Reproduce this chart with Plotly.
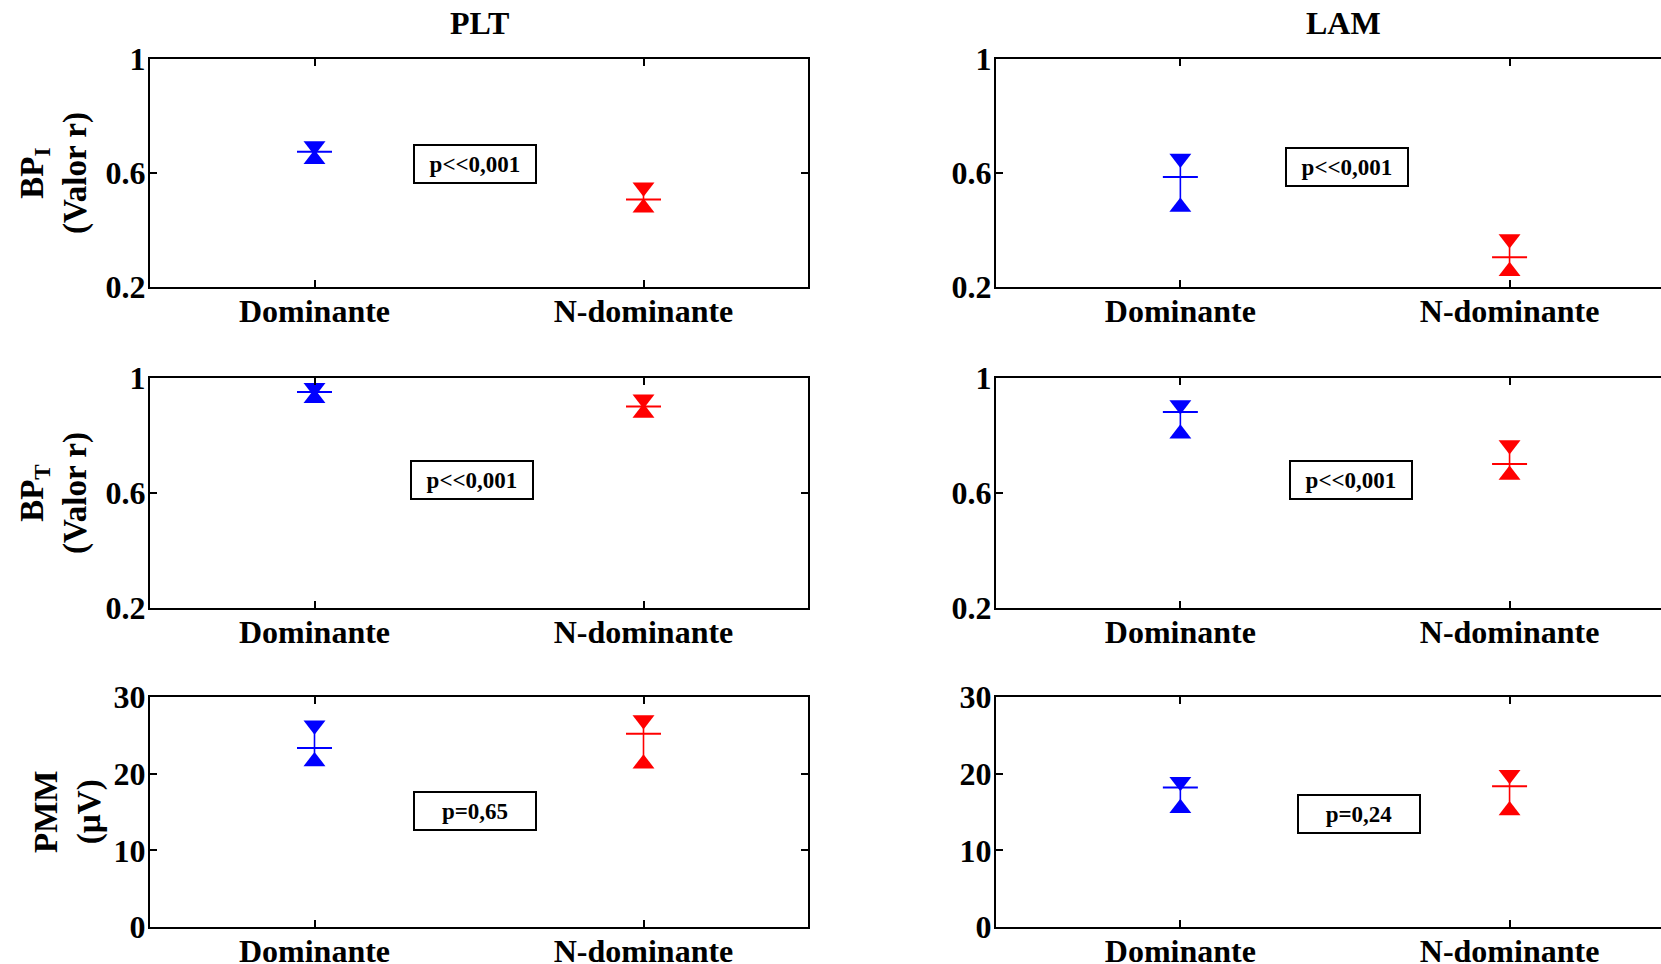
import plotly.graph_objects as go

# ---------------- data ----------------
categories = ["Dominante", "N-dominante"]
groups = ["PLT", "LAM"]
row_titles = ["BP<sub>I</sub><br>(Valor r)", "BP<sub>T</sub><br>(Valor r)", "PMM<br>(µV)"]
colors = ["#0000ff", "#ff0000"]

# PLT
plt_bpi_mean = [0.675, 0.507]
plt_bpi_upper = [0.695, 0.550]
plt_bpi_lower = [0.648, 0.478]

plt_bpt_mean = [0.951, 0.901]
plt_bpt_upper = [0.966, 0.926]
plt_bpt_lower = [0.930, 0.878]

plt_pmm_mean = [23.35, 25.2]
plt_pmm_upper = [26.3, 27.0]
plt_pmm_lower = [21.6, 21.3]

# LAM
lam_bpi_mean = [0.586, 0.304]
lam_bpi_upper = [0.651, 0.368]
lam_bpi_lower = [0.481, 0.255]

lam_bpt_mean = [0.882, 0.701]
lam_bpt_upper = [0.906, 0.767]
lam_bpt_lower = [0.806, 0.663]

lam_pmm_mean = [18.2, 18.35]
lam_pmm_upper = [18.96, 19.87]
lam_pmm_lower = [15.48, 15.2]

p_texts = [["p<<0,001", "p<<0,001"], ["p<<0,001", "p<<0,001"], ["p=0,65", "p=0,24"]]

y_ranges = [[0.2, 1], [0.2, 1], [0, 30]]
y_tickvals = [[0.2, 0.6, 1], [0.2, 0.6, 1], [0, 10, 20, 30]]
y_ticktext = [["0.2", "0.6", "1"], ["0.2", "0.6", "1"], ["0", "10", "20", "30"]]

data = {
    (0, 0): (plt_bpi_mean, plt_bpi_lower, plt_bpi_upper),
    (1, 0): (plt_bpt_mean, plt_bpt_lower, plt_bpt_upper),
    (2, 0): (plt_pmm_mean, plt_pmm_lower, plt_pmm_upper),
    (0, 1): (lam_bpi_mean, lam_bpi_lower, lam_bpi_upper),
    (1, 1): (lam_bpt_mean, lam_bpt_lower, lam_bpt_upper),
    (2, 1): (lam_pmm_mean, lam_pmm_lower, lam_pmm_upper),
}

# ---------------- layout geometry ----------------
W, H = 1661, 964
FONT = "Liberation Serif"
col_px = [(150, 808), (996, 1661)]
row_px = [(59, 287), (378, 608), (697, 927)]
x_ranges = [[0.5, 2.5], [0.44, 2.46]]
p_x = [[1.487, 1.507], [1.478, 1.519], [1.488, 1.542]]
p_y = [[0.631, 0.622], [0.646, 0.646], [15.08, 14.74]]

fig = go.Figure()
layout = {}
annotations = []

for r in range(3):
    for c in range(2):
        k = r * 2 + c + 1
        xa = "x" if k == 1 else f"x{k}"
        ya = "y" if k == 1 else f"y{k}"
        mean, lower, upper = data[(r, c)]
        for i, cat in enumerate(categories):
            xpos = i + 1
            fig.add_trace(go.Scatter(
                x=[xpos, xpos], y=[lower[i], upper[i]],
                mode="lines+markers",
                line=dict(color=colors[i], width=1.6),
                marker=dict(symbol=["triangle-up", "triangle-down"], size=19,
                            color=colors[i], line=dict(width=0)),
                xaxis=xa, yaxis=ya, showlegend=False, hoverinfo="skip",
                cliponaxis=False,
            ))
            fig.add_trace(go.Scatter(
                x=[xpos], y=[mean[i]], mode="markers",
                marker=dict(symbol="line-ew", size=25,
                            line=dict(color=colors[i], width=2)),
                xaxis=xa, yaxis=ya, showlegend=False, hoverinfo="skip",
                cliponaxis=False,
            ))
        x0, x1 = col_px[c]
        y0, y1 = row_px[r]
        tickfont = dict(family=FONT, size=32, color="black", weight="bold")
        layout["xaxis" if k == 1 else f"xaxis{k}"] = dict(
            domain=[x0 / W, x1 / W], anchor=ya, range=x_ranges[c],
            tickvals=[1, 2], ticktext=categories, ticks="inside", ticklen=7,
            tickwidth=1.5, tickcolor="black", showline=True, linewidth=2,
            linecolor="black", mirror="ticks", showgrid=False, zeroline=False,
            tickfont=tickfont, fixedrange=True, automargin=False,
            ticklabelstandoff=-5,
        )
        layout["yaxis" if k == 1 else f"yaxis{k}"] = dict(
            domain=[1 - y1 / H, 1 - y0 / H], anchor=xa, range=y_ranges[r],
            tickvals=y_tickvals[r], ticktext=y_ticktext[r], ticks="inside",
            ticklen=7, tickwidth=1.5, tickcolor="black", showline=True,
            linewidth=2, linecolor="black",
            mirror="ticks" if c == 0 else False,
            showgrid=False, zeroline=False, tickfont=tickfont, fixedrange=True,
            automargin=False, ticklabelstandoff=-4,
        )
        annotations.append(dict(
            xref=xa, yref=ya, x=p_x[r][c], y=p_y[r][c], text=p_texts[r][c],
            showarrow=False, bordercolor="black", borderwidth=2, borderpad=3,
            width=114, height=30, bgcolor="white",
            font=dict(family=FONT, size=23, color="black", weight="bold"),
        ))

# column titles
for c, g in enumerate(groups):
    x0, x1 = col_px[c]
    cx = (x0 + x1) / 2 if c == 0 else 1343
    annotations.append(dict(
        xref="paper", yref="paper", x=cx / W, y=1 - 23 / H, text=g,
        showarrow=False, xanchor="center", yanchor="middle",
        font=dict(family=FONT, size=32, color="black", weight="bold"),
    ))

# row titles
row_title_x = [54, 54, 68]
for r, t in enumerate(row_titles):
    y0, y1 = row_px[r]
    annotations.append(dict(
        xref="paper", yref="paper", x=row_title_x[r] / W, y=1 - (y0 + y1) / 2 / H,
        text=t, textangle=-90, showarrow=False, xanchor="center", yanchor="middle",
        font=dict(family=FONT, size=33, color="black", weight="bold"),
    ))

fig.update_layout(
    **layout,
    annotations=annotations,
    width=W, height=H, autosize=False,
    margin=dict(l=0, r=0, t=0, b=0, autoexpand=False),
    paper_bgcolor="white", plot_bgcolor="white",
    showlegend=False,
)

fig.write_html(
    "out.html",
    config={"displayModeBar": False},
    post_script="document.body.style.margin='0';document.body.style.overflow='hidden';",
)
